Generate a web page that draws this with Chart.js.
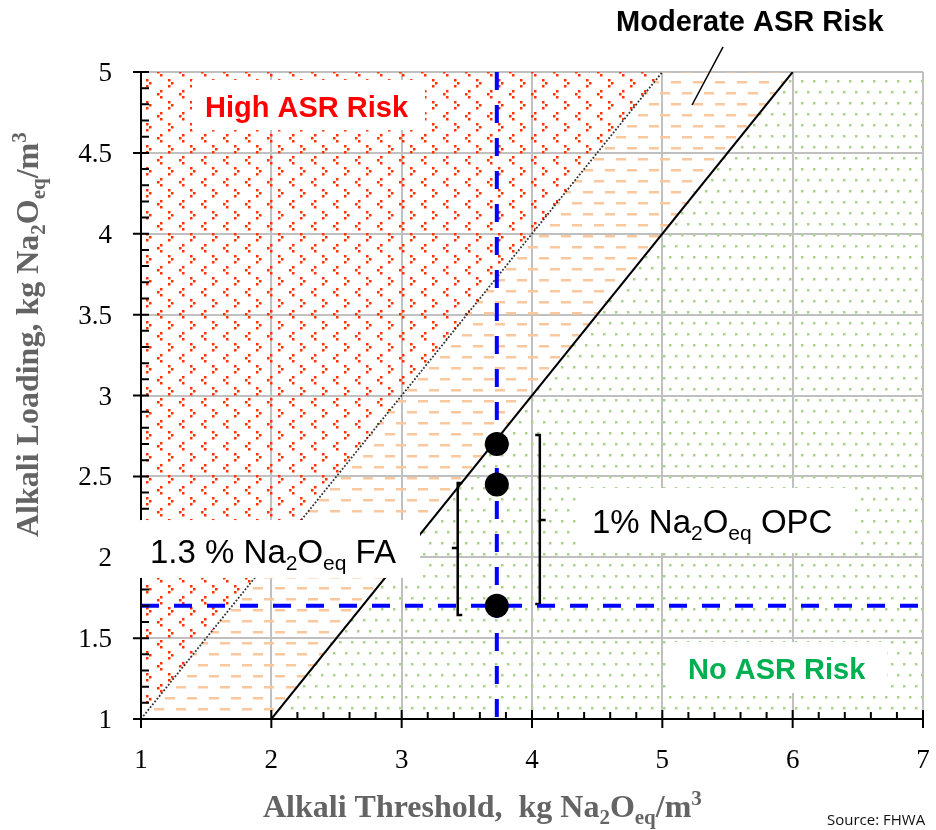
<!DOCTYPE html>
<html>
<head>
<meta charset="utf-8">
<script src="https://cdn.jsdelivr.net/npm/chart.js@4.4.0/dist/chart.umd.min.js"></script>
<style>
  html, body { margin: 0; padding: 0; background: #fff; }
  #wrap { width: 936px; height: 830px; }
</style>
</head>
<body>
<div id="wrap"><canvas id="c" width="936" height="830"></canvas></div>
<script>
// axis ticks
const xTicks = [1, 2, 3, 4, 5, 6, 7];
const yTicks = [1, 1.5, 2, 2.5, 3, 3.5, 4, 4.5, 5];

// risk zones (alkali threshold vs alkali loading)
const highZone = [{ x: 1, y: 1 }, { x: 5, y: 5 }, { x: 1, y: 5 }];
const moderateZone = [{ x: 1, y: 1 }, { x: 5, y: 5 }, { x: 6, y: 5 }, { x: 2, y: 1 }];
const noRiskZone = [{ x: 2, y: 1 }, { x: 6, y: 5 }, { x: 7, y: 5 }, { x: 7, y: 1 }];
const upperBound = [{ x: 1, y: 1 }, { x: 5, y: 5 }];
const lowerBound = [{ x: 2, y: 1 }, { x: 6, y: 5 }];

// mix design
const thresholdLine = [{ x: 3.73, y: 5 }, { x: 3.73, y: 1 }];
const loadingLine = [{ x: 1, y: 1.7 }, { x: 7, y: 1.7 }];
const mixPoints = [{ x: 3.73, y: 2.7 }, { x: 3.73, y: 2.45 }, { x: 3.73, y: 1.7 }];
const bracketFA = [
  { x: 3.465, y: 2.459 }, { x: 3.43, y: 2.459 }, { x: 3.43, y: 2.057 }, { x: 3.385, y: 2.057 },
  { x: 3.43, y: 2.057 }, { x: 3.43, y: 1.643 }, { x: 3.465, y: 1.643 }
];
const bracketOPC = [
  { x: 4.025, y: 2.756 }, { x: 4.06, y: 2.756 }, { x: 4.06, y: 2.23 }, { x: 4.105, y: 2.23 },
  { x: 4.06, y: 2.23 }, { x: 4.06, y: 1.711 }, { x: 4.025, y: 1.711 }
];

const zoneNames = ['High ASR Risk', 'Moderate ASR Risk', 'No ASR Risk'];
const xTitle = [['Alkali Threshold,  kg Na', 'n'], ['2', 'sub'], ['O', 'n'], ['eq', 'sub'], ['/m', 'n'], ['3', 'sup']];
const yTitle = [['Alkali Loading, kg Na', 'n'], ['2', 'sub'], ['O', 'n'], ['eq', 'sub'], ['/m', 'n'], ['3', 'sup']];
const faLabel = [['1.3 % Na', 'n'], ['2', 'sub'], ['O', 'n'], ['eq', 'sub'], [' FA', 'n']];
const opcLabel = [['1% Na', 'n'], ['2', 'sub'], ['O', 'n'], ['eq', 'sub'], [' OPC', 'n']];

const canvas = document.getElementById('c');
const ctx = canvas.getContext('2d');

function makePattern(w, h, paint) {
  const c = document.createElement('canvas');
  c.width = w; c.height = h;
  paint(c.getContext('2d'));
  return ctx.createPattern(c, 'repeat');
}
const redDots = makePattern(22, 22, g => {
  g.fillStyle = '#ff3300';
  // "<" group and ">" group
  g.fillRect(6, 2, 2.5, 2.5); g.fillRect(3, 5, 2.5, 2.5); g.fillRect(6, 8, 2.5, 2.5);
  g.fillRect(14, 13, 2.5, 2.5); g.fillRect(17, 16, 2.5, 2.5); g.fillRect(14, 19, 2.5, 2.5);
});
const orangeDashes = makePattern(22, 22, g => {
  g.fillStyle = '#fbc89e';
  g.fillRect(0, 4, 10, 2.5);
  g.fillRect(11, 15, 10, 2.5);
});
const greenDots = makePattern(24, 22, g => {
  g.fillStyle = '#a9d38a';
  g.fillRect(3, 3, 2.5, 2.5); g.fillRect(15, 3, 2.5, 2.5);
  g.fillRect(9, 14, 2.5, 2.5); g.fillRect(21, 14, 2.5, 2.5);
});

function richText(g, parts, x, y, size, family, weight, color) {
  let cx = x;
  g.fillStyle = color;
  g.textBaseline = 'alphabetic';
  g.textAlign = 'left';
  for (const [t, kind] of parts) {
    const s = kind === 'n' ? size : Math.round(size * 0.65);
    const dy = kind === 'sub' ? size * 0.22 : kind === 'sup' ? -size * 0.36 : 0;
    g.font = `${weight} ${s}px ${family}`;
    g.fillText(t, cx, y + dy);
    cx += g.measureText(t).width;
  }
  return cx - x;
}

const serif = '"Liberation Serif", "Times New Roman", serif';
const sans = '"Liberation Sans", Arial, sans-serif';

const decor = {
  id: 'decor',
  afterDatasetsDraw(chart) {
    const g = chart.ctx;
    const xs = chart.scales.x, ys = chart.scales.y;
    const px = v => xs.getPixelForValue(v), py = v => ys.getPixelForValue(v);
    const { left, right, top, bottom } = chart.chartArea;
    g.save();
    g.strokeStyle = '#000';
    g.lineWidth = 2;
    g.beginPath();
    g.moveTo(left, top); g.lineTo(left, bottom);
    g.moveTo(left - 1, bottom); g.lineTo(right + 1, bottom);
    for (const v of xTicks) { g.moveTo(px(v), bottom - 9); g.lineTo(px(v), bottom + 9); }
    for (const v of yTicks) { g.moveTo(left - 8, py(v)); g.lineTo(left + 8, py(v)); }
    for (let i = 5; i < 30; i++) if (i % 5) { g.moveTo(px(1 + i * 0.2), bottom); g.lineTo(px(1 + i * 0.2), bottom - 7); }
    for (let i = 10; i < 50; i++) if (i % 5) { g.moveTo(left, py(i / 10)); g.lineTo(left + 8, py(i / 10)); }
    g.stroke();

    // tick labels
    g.fillStyle = '#000';
    g.font = `27px ${serif}`;
    g.textBaseline = 'alphabetic';
    g.textAlign = 'center';
    for (const v of xTicks) g.fillText(String(v), px(v), bottom + 49);
    g.textAlign = 'right';
    for (const v of yTicks) g.fillText(String(v), left - 29, py(v) + 9);

    // leader for moderate zone
    g.lineWidth = 1.5;
    g.beginPath();
    g.moveTo(px(5.466), py(5.155)); g.lineTo(px(5.228), py(4.796));
    g.stroke();

    // label boxes
    g.fillStyle = '#fff';
    const box = (x1, y1, x2, y2) => g.fillRect(px(x1), py(y1), px(x2) - px(x1), py(y2) - py(y1));
    box(1.391, 4.951, 3.179, 4.641);
    box(0.877, 2.230, 3.141, 1.872);
    box(4.353, 2.428, 6.455, 2.026);
    box(5.036, 1.476, 6.724, 1.161);

    richText(g, [[zoneNames[0], 'n']], px(1.491), py(4.722), 29, sans, 'bold', '#ff0000');
    richText(g, [[zoneNames[1], 'n']], px(4.645), py(5.253), 29, sans, 'bold', '#000');
    richText(g, [[zoneNames[2], 'n']], px(5.197), py(1.247), 29, sans, 'bold', '#00b050');
    richText(g, faLabel, px(1.069), py(1.964), 33, sans, 'normal', '#000');
    richText(g, opcLabel, px(4.46), py(2.15), 33, sans, 'normal', '#000');

    richText(g, xTitle, 263, 817, 32, serif, 'bold', '#646464');
    g.save();
    g.translate(38, 537);
    g.rotate(-Math.PI / 2);
    richText(g, yTitle, 0, 0, 32, serif, 'bold', '#646464');
    g.restore();

    richText(g, [['Source: FHWA', 'n']], 827, 825, 15, '"Open Sans", sans-serif', 'normal', '#111');
    g.restore();
  }
};

const zone = (data, bg) => ({
  data, fill: 'shape', backgroundColor: bg, borderColor: 'rgba(0,0,0,0)',
  borderWidth: 0, pointRadius: 0, order: 5
});

new Chart(ctx, {
  type: 'line',
  data: {
    datasets: [
      { data: mixPoints, showLine: false, pointRadius: 12, pointBackgroundColor: '#000', pointBorderWidth: 0, order: 0 },
      { data: thresholdLine, borderColor: '#0000ff', borderWidth: 4, borderDash: [18, 15], pointRadius: 0, order: 1 },
      { data: loadingLine, borderColor: '#0000ff', borderWidth: 4, borderDash: [18, 15], pointRadius: 0, order: 1 },
      { data: bracketFA, borderColor: '#000', borderWidth: 2.5, pointRadius: 0, order: 1 },
      { data: bracketOPC, borderColor: '#000', borderWidth: 2.5, pointRadius: 0, order: 1 },
      { data: upperBound, borderColor: '#333', borderWidth: 1.8, borderDash: [1.8, 1.8], pointRadius: 0, order: 2 },
      { data: lowerBound, borderColor: '#000', borderWidth: 2, pointRadius: 0, order: 2 },
      zone(highZone, redDots),
      zone(moderateZone, orangeDashes),
      zone(noRiskZone, greenDots)
    ]
  },
  options: {
    responsive: false,
    animation: false,
    events: [],
    layout: { padding: { top: 72, right: 13, left: 0, bottom: 0 } },
    plugins: { legend: { display: false }, tooltip: { enabled: false } },
    scales: {
      x: {
        type: 'linear', min: 1, max: 7,
        afterFit: s => { s.height = 111; },
        afterBuildTicks: s => { s.ticks = xTicks.map(v => ({ value: v })); },
        ticks: { display: false },
        grid: { color: '#c0c0c0', lineWidth: 2, drawTicks: false },
        border: { display: false }
      },
      y: {
        type: 'linear', min: 1, max: 5,
        afterFit: s => { s.width = 141; },
        afterBuildTicks: s => { s.ticks = yTicks.map(v => ({ value: v })); },
        ticks: { display: false },
        grid: { color: '#c0c0c0', lineWidth: 2, drawTicks: false },
        border: { display: false }
      }
    }
  },
  plugins: [decor]
});
</script>
</body>
</html>
